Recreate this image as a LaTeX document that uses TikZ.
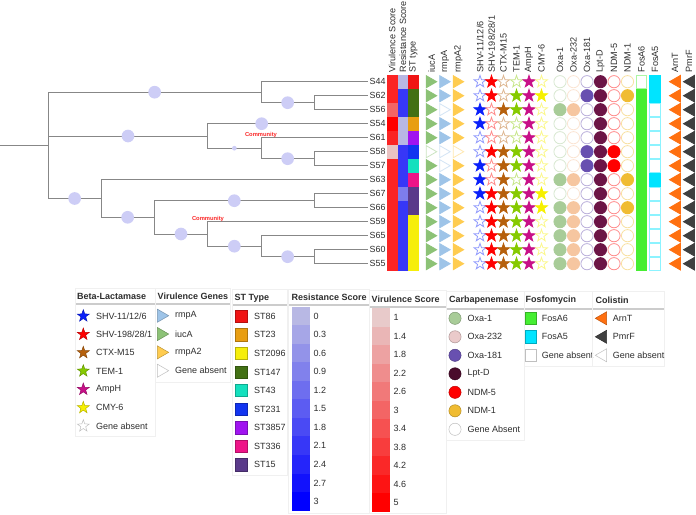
\documentclass[tikz,border=0pt]{standalone}
\usepackage{fontspec}
\setmainfont{Liberation Sans}
\usetikzlibrary{shapes.geometric,positioning}
\definecolor{ink}{RGB}{45,45,45}
\definecolor{twig}{RGB}{135,135,135}
\definecolor{lavend}{RGB}{205,205,246}
\definecolor{commred}{RGB}{250,40,40}
\definecolor{vzero}{RGB}{232,202,202}
\definecolor{rzero}{RGB}{184,184,228}
\definecolor{st86}{RGB}{240,20,20}
\definecolor{st23}{RGB}{232,158,18}
\definecolor{st2096}{RGB}{246,238,10}
\definecolor{st147}{RGB}{66,112,20}
\definecolor{st43}{RGB}{20,224,190}
\definecolor{st231}{RGB}{18,52,240}
\definecolor{st3857}{RGB}{160,20,240}
\definecolor{st336}{RGB}{238,20,136}
\definecolor{st15}{RGB}{90,58,138}
\definecolor{iuc}{RGB}{140,194,118}
\definecolor{rmpa}{RGB}{158,196,232}
\definecolor{rmpb}{RGB}{255,204,80}
\definecolor{shva}{RGB}{10,32,250}
\definecolor{shvb}{RGB}{255,0,0}
\definecolor{ctx}{RGB}{182,96,12}
\definecolor{tem}{RGB}{134,202,0}
\definecolor{amph}{RGB}{200,16,136}
\definecolor{cmy}{RGB}{246,240,0}
\definecolor{oxa}{RGB}{168,204,152}
\definecolor{oxb}{RGB}{246,198,160}
\definecolor{oxbkey}{RGB}{234,202,202}
\definecolor{oxc}{RGB}{104,80,176}
\definecolor{lpt}{RGB}{108,20,70}
\definecolor{lptkey}{RGB}{74,12,44}
\definecolor{ndma}{RGB}{255,0,0}
\definecolor{ndmb}{RGB}{240,188,50}
\definecolor{fosa}{RGB}{70,238,50}
\definecolor{fosb}{RGB}{0,228,255}
\definecolor{arnt}{RGB}{255,112,16}
\definecolor{pmrf}{RGB}{64,64,64}
\tikzset{
  branch/.style={draw=twig,line width=0.9pt},
  bubble/.style={circle,fill=lavend,inner sep=0pt,minimum size=12.7pt},
  tip/.style={anchor=west,inner sep=1.2pt,font=\fontsize{8.9}{10}\selectfont,text=ink},
  colhead/.style={rotate=90,anchor=west,inner sep=0pt,font=\fontsize{9.1}{10}\selectfont,text=ink},
  cell/.style={fill=#1,inner sep=0pt,minimum width=10.6pt,minimum height=14.1pt},
  sym/.code 2 args={\ifnum#2=1 \pgfkeysalso{fill=#1,draw=#1}\else\pgfkeysalso{fill=white,draw=#1!45}\fi},
  keymark/.style={fill=#1,draw=#1!75!black,line width=0.5pt},
  rtri/.style={regular polygon,regular polygon sides=3,shape border rotate=-90,inner sep=0pt,minimum size=14pt,line width=0.8pt},
  ltri/.style={regular polygon,regular polygon sides=3,shape border rotate=90,inner sep=0pt,minimum size=14.6pt,line width=0.8pt},
  starmark/.style={star,star points=5,star point ratio=2.5,inner sep=0pt,minimum size=12.6pt,line width=0.8pt},
  dot/.style={circle,inner sep=0pt,minimum size=12.2pt,line width=0.8pt},
  sq/.style={rectangle,inner sep=0pt,minimum width=10.6pt,minimum height=12.4pt,line width=0.8pt},
  keybox/.style={draw=black!6,line width=0.6pt},
  keyrule/.style={fill=black!20},
  keytitle/.style={anchor=west,inner sep=1pt,font=\fontsize{9}{10}\selectfont\bfseries,text=ink},
  keytext/.style={anchor=west,inner sep=1pt,font=\fontsize{9}{10}\selectfont,text=ink},
  band/.style={fill=#1,inner sep=0pt,minimum width=18.3pt,minimum height=18.9pt},
  comm/.style={font=\fontsize{5.8}{6}\selectfont\bfseries,text=commred,inner sep=0pt},
}
\begin{document}
\begin{tikzpicture}[x=1pt,y=-1pt]
  \useasboundingbox (0,0) rectangle (696,514);
  % isolates with scores and ST
  \foreach \nm/\vp/\rp/\st [count=\i from 0] in {S44/82/0/st86,S62/82/70/st147,S56/50/70/st147,S54/100/0/st23,S61/82/0/st3857,S58/4/70/st231,S57/82/70/st43,S63/82/70/st336,S67/82/32/st15,S66/82/70/st15,S59/82/70/st2096,S65/82/70/st2096,S60/82/70/st2096,S55/82/70/st2096}
  {
    \node[tip] (lab-\nm) at (368.3,81.7+14*\i) {\nm};
    \node[cell=red!\vp!vzero] (vir-\i) at (392.2,81.7+14*\i) {};
    \node[cell=blue!\rp!rzero] (res-\i) at (402.8,81.7+14*\i) {};
    \node[cell=\st] (st-\i) at (413.3,81.7+14*\i) {};
  }
  % tree
  \coordinate (stem) at (0,145.3);
  \coordinate (root) at (48.3,145.3);
  \coordinate (cA) at (261,92.2);
  \coordinate (cA1) at (314.3,102.7);
  \coordinate (cB) at (207.7,136);
  \coordinate (cB1) at (261,148.2);
  \coordinate (cB2) at (314.3,158.7);
  \coordinate (cC) at (101,198.5);
  \coordinate (cC1) at (154.3,217.3);
  \coordinate (cC2) at (314.3,200.7);
  \coordinate (cC3) at (207.7,234);
  \coordinate (cC4) at (261,246.2);
  \coordinate (cC5) at (314.3,256.7);
  \draw[branch] (stem) -- (root);
  \foreach \p/\c in {cA/S44,cA1/S62,cA1/S56,cB1/S61,cB2/S58,cB2/S57,cC/S63,cC2/S67,cC2/S66,cC3/S59,cC4/S65,cC5/S60,cC5/S55}
    \draw[branch] (\p) |- (lab-\c.west);
  \foreach \p/\c/\ps [count=\e] in {root/cA/.75,cA/cA1/.75,root/cB/.75,cB/lab-S54.west/.668,cB1/cB2/.75,root/cC/.75,cC/cC1/.75,cC1/cC2/.75,cC1/cC3/.75,cC3/cC4/.75,cC4/cC5/.75}
    \draw[branch] (\p) |- node[bubble,pos=\ps] (bub-\e) {} (\c);
  \draw[branch] (cB) |- node[bubble,pos=.75,minimum size=4.7pt] (bub-small) {} (cB1);
  \node[comm] (comm-1) at (261,134.5) {Community};
  \node[comm] (comm-2) at (208,219.3) {Community};
  % column heads
  \foreach \x/\txt [count=\h] in {392.2/Virulence Score,402.8/Resistance Score,413.3/ST type,431.5/iucA,445/rmpA,458.5/rmpA2,480/{SHV-11/12/6},491.5/{SHV-198/28/1},503.5/CTX-M15,516.5/TEM-1,529/AmpH,541.5/CMY-6,560/Oxa-1,573.5/Oxa-232,587/Oxa-181,600.5/Lpt-D,614/NDM-5,627.5/NDM-1,641.5/FosA6,655/FosA5,675/ArnT,689/PmrF}
    \node[colhead] (hd-\h) at (\x,72.5) {\txt};
  % gene marks
  \foreach \x/\clr/\flags in {429.7/iuc/{1,1,1,1,1,0,1,1,1,1,1,1,1,1},443.2/rmpa/{1,1,0,1,1,0,0,1,1,1,1,1,1,1},456.7/rmpb/{1,1,1,1,1,0,1,1,1,1,1,1,1,1}}
    \foreach \fl [count=\i from 0] in \flags
      \node[rtri,sym={\clr}{\fl}] (\clr-\i) at (\x,81.7+14*\i) {};
  \foreach \x/\clr/\flags in {480/shva/{0,0,1,1,0,0,1,1,1,0,0,0,0,0},491.5/shvb/{1,1,0,0,0,1,0,0,1,1,1,1,1,1},503.5/ctx/{0,0,1,0,0,1,1,1,1,1,1,1,1,1},516.5/tem/{0,1,1,0,0,1,1,0,1,1,1,1,1,1},529/amph/{1,1,1,1,1,1,1,1,1,1,1,1,1,1},541.5/cmy/{0,1,0,0,0,0,0,0,1,1,0,0,0,0}}
    \foreach \fl [count=\i from 0] in \flags
      \node[starmark,sym={\clr}{\fl}] (\clr-\i) at (\x,81.7+14*\i) {};
  \foreach \x/\clr/\flags in {560/oxa/{0,0,1,0,0,0,0,1,0,1,1,1,1,1},573.5/oxb/{0,0,1,0,0,0,0,1,0,1,1,1,1,1},587/oxc/{0,1,0,0,0,1,1,0,0,0,0,0,0,0},600.5/lpt/{1,1,1,1,1,1,1,1,1,1,1,1,1,1},614/ndma/{0,0,0,0,0,1,1,0,0,0,0,0,0,0},627.5/ndmb/{0,1,0,0,0,0,0,1,0,1,0,0,0,0}}
    \foreach \fl [count=\i from 0] in \flags
      \node[dot,sym={\clr}{\fl}] (\clr-\i) at (\x,81.7+14*\i) {};
  \foreach \x/\clr/\flags in {641.5/fosa/{0,1,1,1,1,1,1,1,1,1,1,1,1,1},655/fosb/{1,1,0,0,0,0,0,1,0,0,0,0,0,0}}
    \foreach \fl [count=\i from 0] in \flags
      \node[sq,sym={\clr}{\fl}] (\clr-\i) at (\x,81.7+14*\i) {};
  \foreach \x/\clr in {676.8/arnt,690.8/pmrf}
    \foreach \i in {0,...,13}
      \node[ltri,sym={\clr}{1}] (\clr-\i) at (\x,81.7+14*\i) {};
  % legends
  \draw[keybox] (75,288) rectangle (155.5,436);
  \fill[keyrule] (75.5,303) rectangle (155,305);
  \node[keytitle] (t-beta) at (76,296.5) {Beta-Lactamase};
  \foreach \clr/\txt [count=\k from 0] in {shva/{SHV-11/12/6},shvb/{SHV-198/28/1},ctx/CTX-M15,tem/TEM-1,amph/AmpH,cmy/CMY-6,white/Gene absent}
  {
    \node[starmark,keymark=\clr] (kstar-\k) at (83.3,316+18.33*\k) {};
    \node[keytext] (kstart-\k) at (95,316+18.33*\k) {\txt};
  }
  \draw[keybox] (155.5,288) rectangle (230.5,382);
  \fill[keyrule] (156,303) rectangle (230,305);
  \node[keytitle] (t-vgen) at (156.5,296.5) {Virulence Genes};
  \foreach \clr/\txt [count=\k from 0] in {rmpa/rmpA,iuc/iucA,rmpb/rmpA2,white/Gene absent}
  {
    \node[rtri,keymark=\clr,minimum size=15pt] (kvg-\k) at (161.2,315.7+18.33*\k) {};
    \node[keytext] (kvgt-\k) at (174,315.7+18.33*\k) {\txt};
  }
  \draw[keybox] (232,289) rectangle (287.5,475.5);
  \fill[keyrule] (232.5,304) rectangle (287,306);
  \node[keytitle] (t-st) at (233.5,298) {ST Type};
  \foreach \clr/\txt [count=\k from 0] in {st86/ST86,st23/ST23,st2096/ST2096,st147/ST147,st43/ST43,st231/ST231,st3857/ST3857,st336/ST336,st15/ST15}
  {
    \node[sq,keymark=\clr,minimum width=12.3pt,minimum height=12.3pt] (kst-\k) at (241.2,316.3+18.55*\k) {};
    \node[keytext] (kstt-\k) at (253,316.3+18.55*\k) {\txt};
  }
  \draw[keybox] (288,289) rectangle (369.5,513);
  \fill[keyrule] (288.5,304) rectangle (369,306);
  \node[keytitle] (t-res) at (290.5,297.7) {Resistance Score};
  \foreach \lab [count=\k from 0] in {0,0.3,0.6,0.9,1.2,1.5,1.8,2.1,2.4,2.7,3}
  {
    \pgfmathtruncatemacro\p{10*\k}
    \node[band=blue!\p!rzero] (rband-\k) at (300.8,316+18.55*\k) {};
    \node[keytext] (rbandt-\k) at (312.3,316+18.55*\k) {\lab};
  }
  \draw[keybox] (369.5,290.5) rectangle (446,513.5);
  \fill[keyrule] (370,306) rectangle (445.5,308);
  \node[keytitle] (t-vsc) at (370.5,299) {Virulence Score};
  \foreach \lab [count=\k from 0] in {1,1.4,1.8,2.2,2.6,3,3.4,3.8,4.2,4.6,5}
  {
    \pgfmathtruncatemacro\p{10*\k}
    \node[band=red!\p!vzero] (vband-\k) at (380.8,317.6+18.5*\k) {};
    \node[keytext] (vbandt-\k) at (392.3,317.6+18.5*\k) {\lab};
  }
  \draw[keybox] (446,291) rectangle (524,440);
  \fill[keyrule] (446.5,307.5) rectangle (523.5,309.5);
  \node[keytitle] (t-carb) at (448,300) {Carbapenemase};
  \foreach \clr/\txt [count=\k from 0] in {oxa/Oxa-1,oxbkey/Oxa-232,oxc/Oxa-181,lptkey/Lpt-D,ndma/NDM-5,ndmb/NDM-1,white/Gene Absent}
  {
    \node[dot,keymark=\clr] (kcb-\k) at (455,318.3+18.5*\k) {};
    \node[keytext] (kcbt-\k) at (466.3,318.3+18.5*\k) {\txt};
  }
  \draw[keybox] (524,291) rectangle (592,366);
  \fill[keyrule] (524.5,307.5) rectangle (591.5,309.5);
  \node[keytitle] (t-fos) at (524.5,300) {Fosfomycin};
  \foreach \clr/\txt [count=\k from 0] in {fosa/FosA6,fosb/FosA5,white/Gene absent}
  {
    \node[sq,keymark=\clr,minimum width=11.7pt,minimum height=12.3pt] (kfo-\k) at (530.8,318.3+18.5*\k) {};
    \node[keytext] (kfot-\k) at (540.7,318.3+18.5*\k) {\txt};
  }
  \draw[keybox] (592,291) rectangle (664,366);
  \fill[keyrule] (592.5,307.5) rectangle (663.5,309.5);
  \node[keytitle] (t-col) at (594.5,300) {Colistin};
  \foreach \clr/\txt [count=\k from 0] in {arnt/ArnT,pmrf/PmrF,white/Gene absent}
  {
    \node[ltri,keymark=\clr,minimum size=15pt] (kco-\k) at (602.8,318.3+18.5*\k) {};
    \node[keytext] (kcot-\k) at (611.7,318.3+18.5*\k) {\txt};
  }
\end{tikzpicture}
\end{document}
